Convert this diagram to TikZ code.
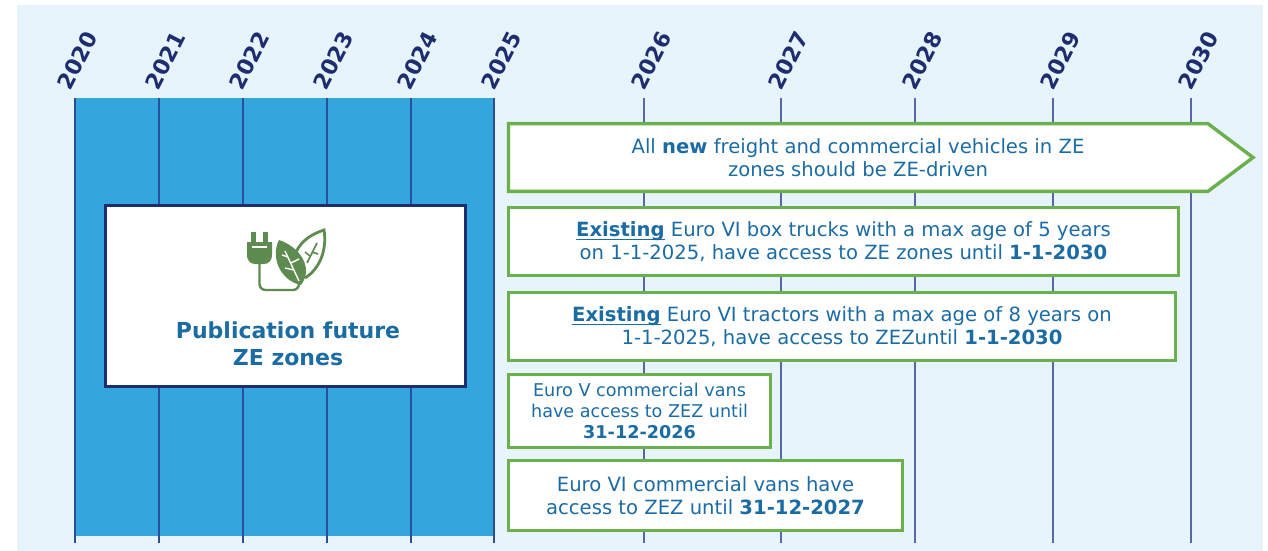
\documentclass[tikz,border=0pt]{standalone}
\usepackage{fontspec}
\setmainfont{DejaVu Sans}
\definecolor{bgblue}{RGB}{232,244,252}
\definecolor{blockblue}{RGB}{51,167,221}
\definecolor{navy}{RGB}{30,45,110}
\definecolor{gridblue}{RGB}{44,78,152}
\definecolor{tickblue}{RGB}{88,104,165}
\definecolor{zegreen}{RGB}{106,176,76}
\definecolor{txtblue}{RGB}{28,108,164}
\definecolor{leafgreen}{RGB}{94,139,79}
\begin{document}
\begin{tikzpicture}[x=0.5pt,y=-0.5pt,
  year/.style={rotate=63, anchor=base west, inner sep=0pt, text=navy, font=\fontsize{11}{13}\selectfont\bfseries},
  blockline/.style={draw=gridblue, line width=1pt},
  yearline/.style={draw=tickblue, line width=0.75pt},
  zeline/.style={draw=zegreen, line width=1.7pt, fill=white},
  zebox/.style={zeline, inner sep=0pt, align=center, text=txtblue, font=\fontsize{9.8}{11.5}\selectfont},
  zetext/.style={inner sep=0pt, align=center, text=txtblue, font=\fontsize{9.8}{11.5}\selectfont}]
\useasboundingbox (0,0) rectangle (1268,551);
\fill[bgblue] (17,5) rectangle (1263,551);
% years 2020-2025
\fill[blockblue] (75,98) rectangle (494,536);
\draw[blockline] (75,98) -- (75,543);
\draw[blockline] (159,98) -- (159,543);
\draw[blockline] (243,98) -- (243,543);
\draw[blockline] (327,98) -- (327,543);
\draw[blockline] (411,98) -- (411,543);
\draw[blockline] (494,98) -- (494,543);
% years 2026-2030
\draw[yearline] (644,98) -- (644,543);
\draw[yearline] (781,98) -- (781,543);
\draw[yearline] (915,98) -- (915,543);
\draw[yearline] (1053,98) -- (1053,543);
\draw[yearline] (1191,98) -- (1191,543);
\node[year] (y2020) at (70,92) {2020};
\node[year] (y2021) at (158,92) {2021};
\node[year] (y2022) at (242,92) {2022};
\node[year] (y2023) at (326,92) {2023};
\node[year] (y2024) at (410,92) {2024};
\node[year] (y2025) at (494,92) {2025};
\node[year] (y2026) at (644,92) {2026};
\node[year] (y2027) at (781,92) {2027};
\node[year] (y2028) at (915,92) {2028};
\node[year] (y2029) at (1053,92) {2029};
\node[year] (y2030) at (1191,92) {2030};
% publication box
\node[draw=navy, line width=1.5pt, fill=white, minimum width=180pt, minimum height=90.5pt] (pubbox) at (285.5,296) {};
\fill[leafgreen] (251,232) rectangle (256,243);
\fill[leafgreen] (263,232) rectangle (268,243);
\fill[leafgreen] (247,242) -- (272,242) -- (272,254) .. controls (272,262) and (268,264) .. (263,264) -- (256,264) .. controls (251,264) and (247,262) .. (247,254) -- cycle;
\draw[white, line width=0.6pt] (252,247) -- (267,247);
\draw[leafgreen, line width=1.2pt, rounded corners=3pt] (259.5,263) -- (259.5,290) -- (299,290) -- (299,281);
\fill[leafgreen] (301,285) .. controls (281,281) and (270,258) .. (279,240) .. controls (300,247) and (314,268) .. (301,285) -- cycle;
\draw[white, line width=0.7pt] (299,281) -- (285,251);
\draw[white, line width=0.7pt] (294,270) -- (285,268);
\draw[white, line width=0.7pt] (291,263) -- (299,259);
\draw[white, line width=0.7pt] (288,257) -- (282,255);
\draw[leafgreen, line width=1.4pt] (296,252) .. controls (302,240) and (312,234) .. (324,230) .. controls (327,248) and (321,268) .. (305,278);
\draw[leafgreen, line width=0.8pt] (307,263) -- (317,243);
\draw[leafgreen, line width=0.8pt] (310,256) -- (305,252);
\draw[leafgreen, line width=0.8pt] (312,252) -- (318,254);
\node[text=txtblue, align=center, font=\fontsize{11}{13.5}\selectfont\bfseries] (pubtext) at (288,344) {Publication future\\ZE zones};
% ZE measures
\draw[zeline] (508.5,123.7) -- (1208,123.7) -- (1253,157.5) -- (1208,191.3) -- (508.5,191.3) -- cycle;
\node[zetext] (allnew) at (858,158) {All \textbf{new} freight and commercial vehicles in ZE\\zones should be ZE-driven};
\node[zebox, minimum width=334.8pt, minimum height=33.8pt] (boxtrucks) at (843.5,241.5) {\underline{\smash{\textbf{Existing}}} Euro VI box trucks with a max age of 5 years\\on 1-1-2025, have access to ZE zones until \textbf{1-1-2030}};
\node[zebox, minimum width=333.3pt, minimum height=33.8pt] (tractors) at (842,326.5) {\underline{\smash{\textbf{Existing}}} Euro VI tractors with a max age of 8 years on\\1-1-2025, have access to ZEZuntil \textbf{1-1-2030}};
\node[zebox, minimum width=130.8pt, minimum height=36.3pt, font=\fontsize{8.8}{10.3}\selectfont] (eurovvans) at (639.5,411) {Euro V commercial vans\\have access to ZEZ until\\\textbf{31-12-2026}};
\node[zebox, minimum width=196.8pt, minimum height=34.8pt] (eurovivans) at (705.5,495.5) {Euro VI commercial vans have\\access to ZEZ until \textbf{31-12-2027}};
\end{tikzpicture}
\end{document}
